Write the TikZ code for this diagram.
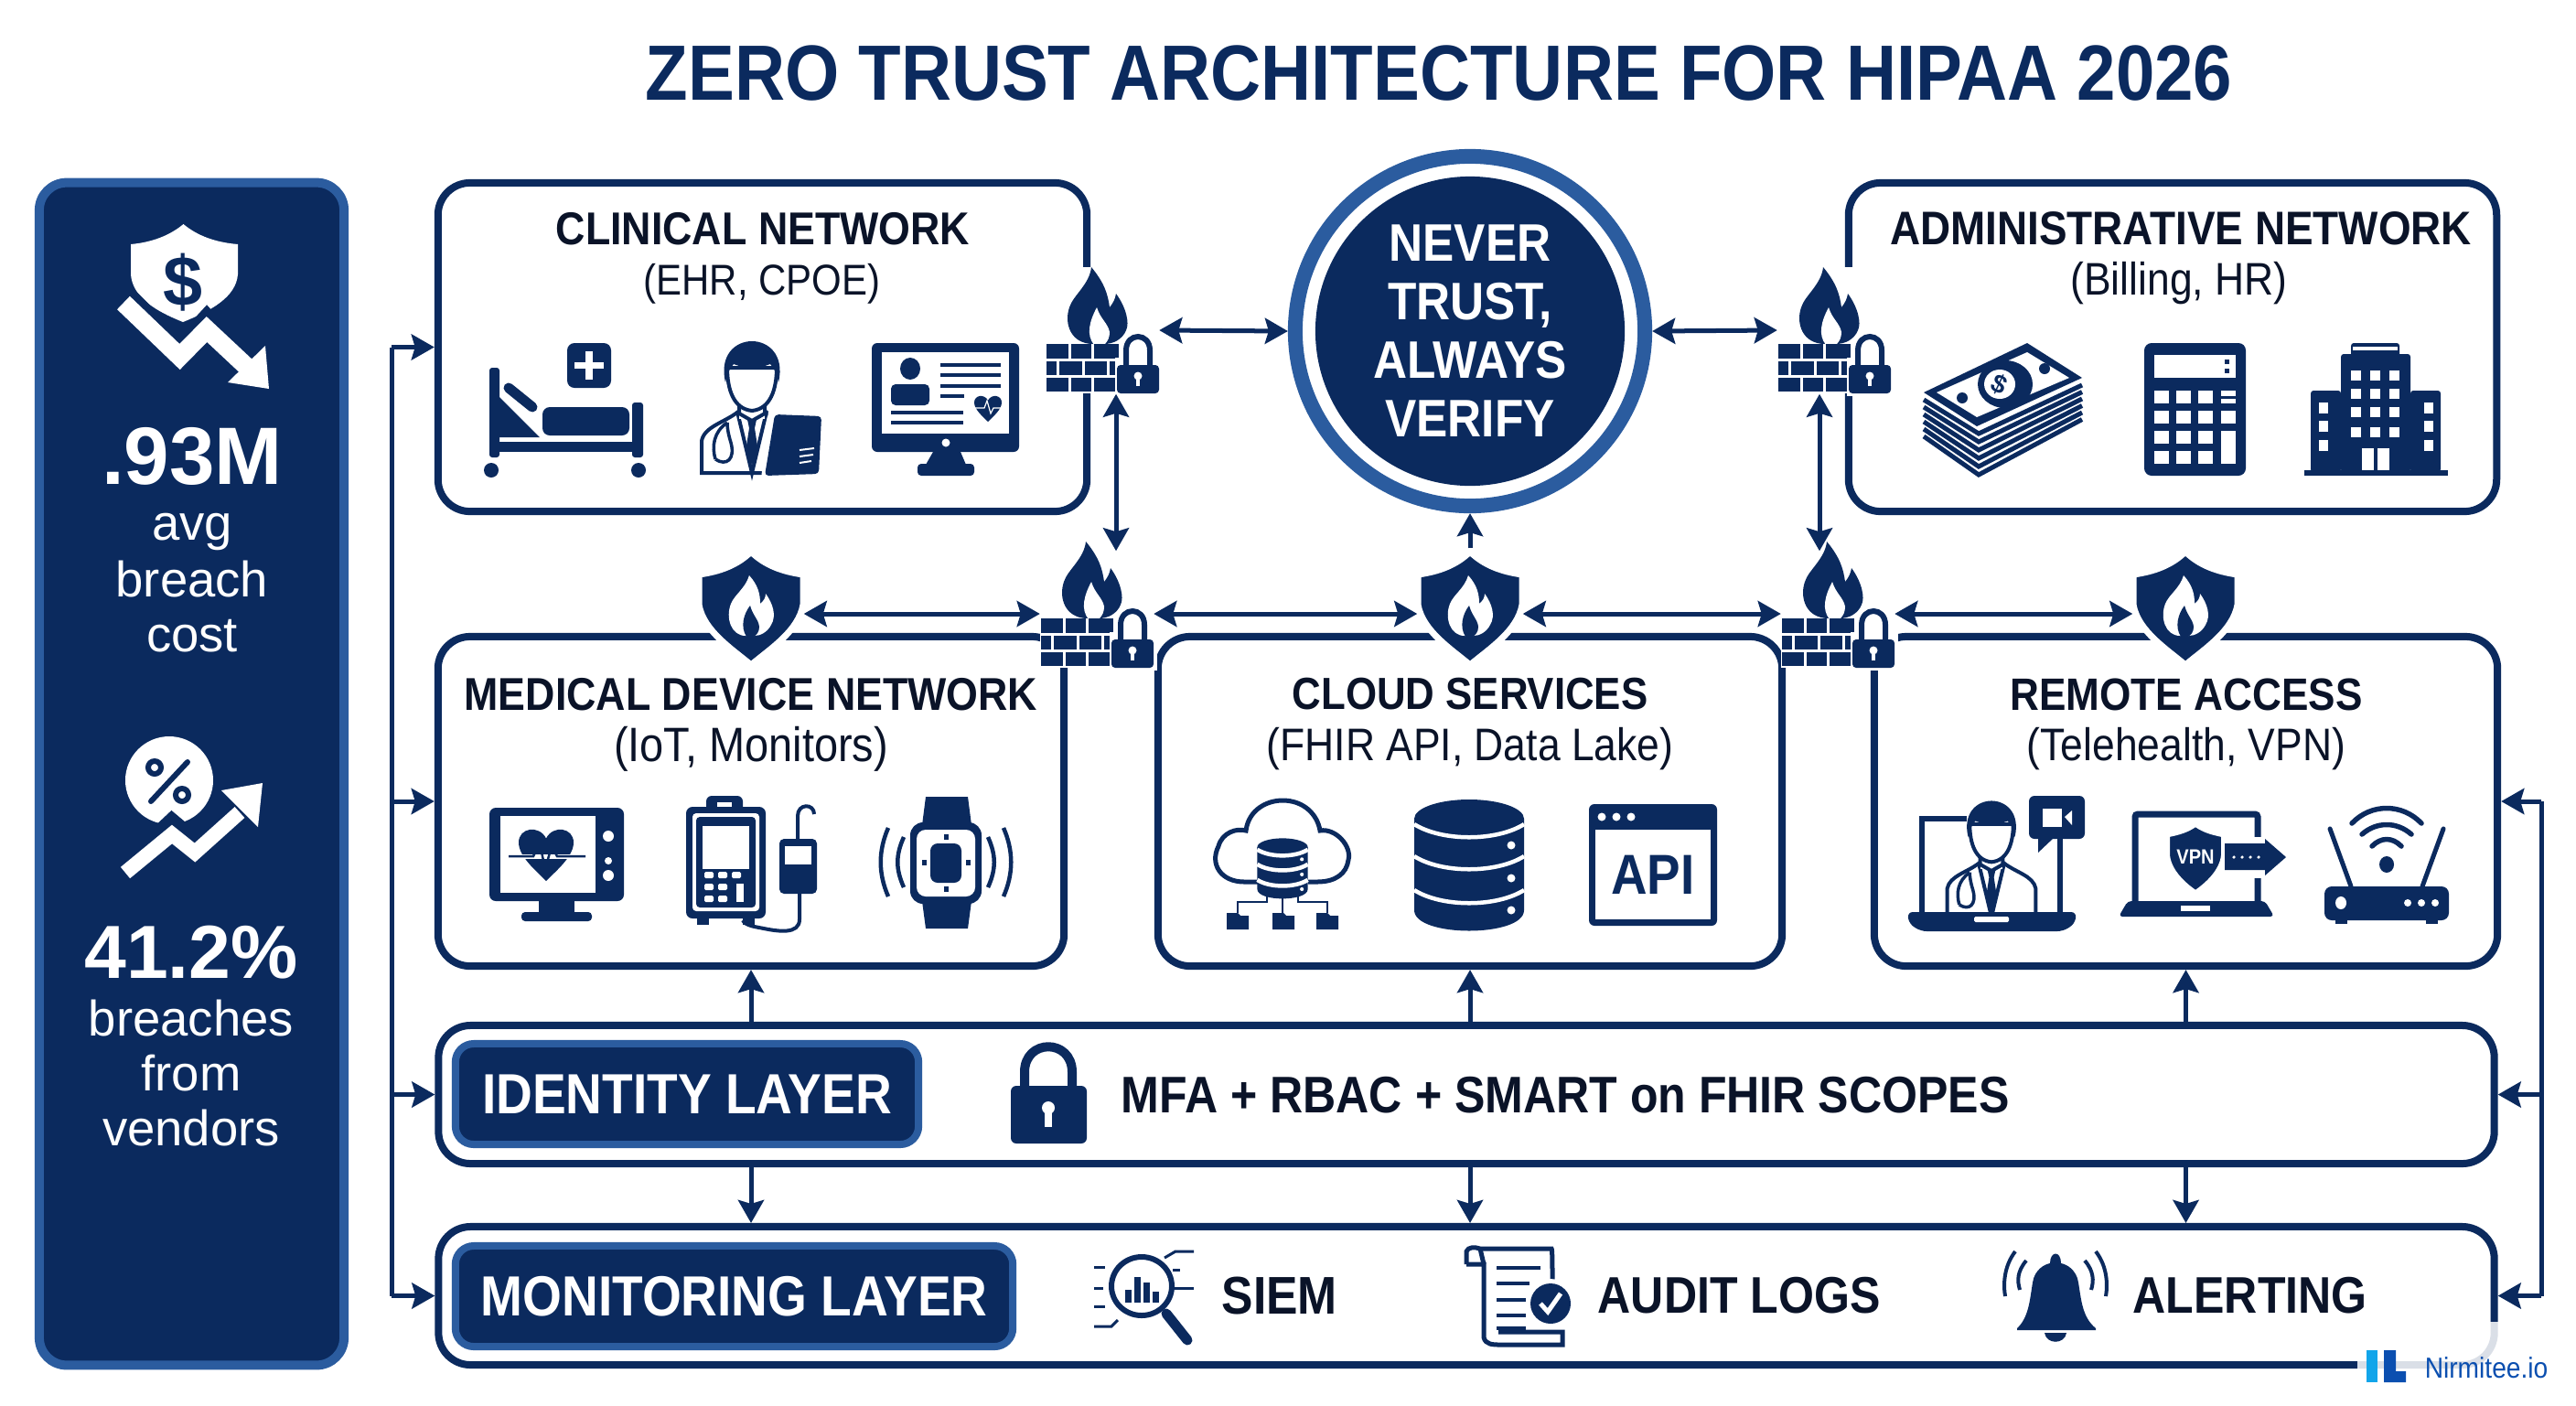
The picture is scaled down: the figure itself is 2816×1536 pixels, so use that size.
\documentclass[tikz,border=0pt]{standalone}
\usepackage{fontspec}
\setmainfont{Liberation Sans}
\newfontfamily\headfont[FakeStretch=0.89]{Liberation Sans}
\usetikzlibrary{arrows.meta}

\definecolor{navy}{HTML}{0B2A5E}
\definecolor{ringblue}{HTML}{2B5C9F}
\definecolor{inkdark}{HTML}{0A1328}
\definecolor{logoblue}{HTML}{0B4FB0}
\definecolor{logocyan}{HTML}{12A5EA}

\newcommand{\fs}[1]{\fontsize{#1}{#1}\selectfont}

\tikzset{
    netbox/.style={draw=navy, line width=0.08cm, rounded corners=0.35cm, fill=white, inner sep=0pt},
    badge/.style={draw=ringblue, fill=navy, line width=0.08cm, rounded corners=0.2cm, text=white,
        inner sep=0pt, font=\headfont\bfseries\fs{17.6}},
    headlabel/.style={text=inkdark, inner sep=0pt, font=\headfont\bfseries\fs{14.3}},
    sublabel/.style={text=inkdark, inner sep=0pt, font=\headfont\fs{14.2}},
    layertext/.style={text=inkdark, inner sep=0pt, font=\headfont\bfseries\fs{16}},
    statbig/.style={text=white, inner sep=0pt, anchor=base, font=\bfseries\fs{24.5}},
    statsmall/.style={text=white, inner sep=0pt, anchor=base, font=\fs{15.5}},
    guard/.style={minimum width=1.23cm, minimum height=1.38cm, inner sep=0pt, fill=white},
    crest/.style={minimum width=1.14cm, minimum height=1.30cm, inner sep=0pt},
    link/.style={navy, line width=0.05cm, -{Stealth[length=0.25cm,width=0.28cm,inset=0.04cm]}},
    linktwo/.style={navy, line width=0.05cm, {Stealth[length=0.25cm,width=0.28cm,inset=0.04cm]}-{Stealth[length=0.25cm,width=0.28cm,inset=0.04cm]}},
    ic/.style={navy, line width=0.05cm},
    % small heart, half width 1
    heart/.pic={
        \fill (0,1) .. controls (-0.4,0.6) and (-1,0.1) .. (-1,-0.4) .. controls (-1,-0.95) and (-0.25,-1.05) .. (0,-0.55)
            .. controls (0.25,-1.05) and (1,-0.95) .. (1,-0.4) .. controls (1,0.1) and (0.4,0.6) .. (0,1) -- cycle;
    },
    % flame on brick wall with padlock
    firewall/.pic={
        \fill[navy] (-10,15) .. controls (-35,15) and (-42,-8) .. (-36,-25) .. controls (-32,-38) and (-14,-50) .. (-12,-69)
            .. controls (2,-52) and (6,-40) .. (8,-25) .. controls (12,-30) and (14,-34) .. (15,-40)
            .. controls (26,-25) and (30,-8) .. (26,0) .. controls (22,10) and (12,15) .. (2,15) -- cycle;
        \fill[white] (-9,16) .. controls (-18,5) and (-14,-10) .. (-6,-25) .. controls (-2,-12) and (6,-8) .. (8,2)
            .. controls (8,8) and (6,12) .. (2,16) -- cycle;
        \foreach \xa/\xb in {-61/-37,-34/-12,-9/18} {
            \fill[navy] (\xa,15) rectangle (\xb,31);
            \fill[navy] (\xa,52) rectangle (\xb,67);
        }
        \foreach \xa/\xb in {-61/-50,-47/-22,-19/5,8/18} {
            \fill[navy] (\xa,34) rectangle (\xb,49);
        }
        \fill[white] (14,30) rectangle (66,72);
        \draw[navy, line width=0.06cm] (26,40) -- (26,22) .. controls (26,2) and (52,2) .. (52,22) -- (52,40);
        \fill[navy, rounded corners=0.04cm] (16,38) rectangle (62,69);
        \fill[white] (39,50) circle (4.5);
        \fill[white] (37,50) rectangle (41,61);
    },
    % shield carrying a flame
    flameshield/.pic={
        \draw[white, line width=0.07cm, fill=navy] (0,-62) .. controls (-15,-47) and (-35,-40) .. (-57,-37) -- (-57,-4)
            .. controls (-52,25) and (-20,45) .. (0,62) .. controls (20,45) and (52,25) .. (57,-4) -- (57,-37)
            .. controls (35,-40) and (15,-47) .. (0,-62) -- cycle;
        \fill[white] (-6,30) .. controls (-22,30) and (-28,10) .. (-22,-5) .. controls (-18,-15) and (-6,-22) .. (-2,-36)
            .. controls (8,-25) and (10,-15) .. (10,-5) .. controls (14,-8) and (16,-12) .. (16,-16)
            .. controls (24,-5) and (28,8) .. (22,18) .. controls (18,26) and (10,30) .. (4,30) -- cycle;
        \fill[navy] (-5,31) .. controls (-12,20) and (-8,6) .. (-1,-3) .. controls (2,8) and (8,12) .. (9,20) .. controls (9,26) and (6,29) .. (3,31) -- cycle;
    },
    % doctor bust, origin at the face
    doctor/.pic={
        \draw[ic, line width=0.04cm, fill=white] (-55,107) -- (-55,72) .. controls (-52,56) and (-30,52) .. (-15,40) -- (15,40)
            .. controls (30,52) and (52,56) .. (55,72) -- (55,107) -- cycle;
        \draw[ic, line width=0.04cm] (-16,40) -- (0,107) -- (16,40);
        \fill[navy] (-6,44) -- (6,44) -- (3,58) -- (7,84) -- (0,98) -- (-7,84) -- (-3,58) -- cycle;
        \draw[ic, line width=0.035cm] (-27,52) .. controls (-42,62) and (-44,78) .. (-40,92);
        \draw[ic, line width=0.035cm] (-40,92) .. controls (-28,100) and (-18,92) .. (-23,74) .. controls (-26,64) and (-27,58) .. (-27,52);
        \fill[white] (-14,28) rectangle (14,48);
        \draw[ic, line width=0.04cm] (-14,26) -- (-14,42) -- (0,50) -- (14,42) -- (14,26);
        \draw[ic, line width=0.04cm, fill=white] (0,39) .. controls (-20,37) and (-27,16) .. (-27,-8) -- (27,-8) .. controls (27,16) and (20,37) .. (0,39) -- cycle;
        \fill[navy] (-29,8) .. controls (-36,-22) and (-18,-37) .. (0,-37) .. controls (18,-37) and (36,-22) .. (29,8)
            .. controls (27,-2) and (24,-8) .. (20,-12) .. controls (8,-7) and (-8,-7) .. (-20,-12) .. controls (-24,-8) and (-27,-2) .. (-29,8) -- cycle;
    },
    % drum with three white seams, half width 60
    drum/.pic={
        \fill[navy] (-60,-50) -- (-60,50) .. controls (-60,80) and (60,80) .. (60,50) -- (60,-50) -- cycle;
        \fill[navy] (0,-50) ellipse [x radius=60, y radius=21];
        \foreach \yy in {-29,6,43} {
            \draw[white, line width=0.045cm] (-60,\yy-15) .. controls (-30,\yy+4) and (30,\yy+4) .. (60,\yy-15);
        }
        \foreach \yy in {-21,15,50} {
            \fill[white] (46,\yy) circle (4.5);
        }
    }
}

\begin{document}
\begin{tikzpicture}[x=0.01cm, y=-0.01cm]
    \useasboundingbox (0,0) rectangle (2816,1536);
    \fill[white] (0,0) rectangle (2816,1536);

    % Title
    \node[text=navy, inner sep=0pt, font=\headfont\bfseries\fs{24.35}] (title) at (1573,80) {ZERO TRUST ARCHITECTURE FOR HIPAA 2026};

    % Stat panel
    \node[draw=ringblue, fill=navy, line width=0.1cm, rounded corners=0.3cm, minimum width=3.33cm, minimum height=12.92cm, inner sep=0pt] (panel) at (209.5,846) {};
    \node[statbig, font=\bfseries\fs{25.3}] (costvalue) at (210,529) {.93M};
    \node[statsmall] (costa) at (210,590) {avg};
    \node[statsmall] (costb) at (210,652) {breach};
    \node[statsmall] (costc) at (210,712) {cost};
    \node[statbig, font=\bfseries\fs{23.4}] (vendorvalue) at (209,1069) {41.2\%};
    \node[statsmall] (vendora) at (209,1132) {breaches};
    \node[statsmall] (vendorb) at (209,1192) {from};
    \node[statsmall] (vendorc) at (209,1252) {vendors};

    % Panel icon: shield and falling arrow
    \fill[white] (200.5,245) .. controls (185,258) and (165,265) .. (143,267) -- (143,300) .. controls (145,325) and (170,340) .. (200,352)
        .. controls (230,340) and (258,325) .. (260,300) -- (260,267) .. controls (236,265) and (216,258) .. (200.5,245) -- cycle;
    \node[text=navy, inner sep=0pt, font=\bfseries\fs{22}] (costsign) at (200,309) {\$};
    \draw[navy, line width=0.36cm, line join=miter] (130,325) -- (196.5,392) -- (226,360) -- (255,392);
    \draw[white, line width=0.2cm, line join=miter] (135,331) -- (196.5,390) -- (226,360) -- (273,404);
    \fill[white] (290,378) -- (294,425) -- (249,418) -- cycle;

    % Panel icon: percent and rising arrow
    \fill[white] (185,853) circle (48);
    \draw[navy, line width=0.06cm] (169,839) circle (7);
    \draw[navy, line width=0.06cm] (199,869) circle (7);
    \draw[navy, line width=0.06cm, line cap=round] (205,833) -- (165,876);
    \draw[navy, line width=0.3cm] (137,954) -- (188,906) -- (213,927) -- (262,882);
    \draw[white, line width=0.16cm, line join=miter] (137,954) -- (188,912) -- (213,932) -- (262,888);
    \fill[white] (287,856) -- (242,864) -- (282,904) -- cycle;

    % Network boxes
    \node[netbox, minimum width=7.09cm, minimum height=3.59cm] (clinical) at (833.5,379.5) {};
    \node[netbox, minimum width=7.08cm, minimum height=3.59cm] (admin) at (2375,379.5) {};
    \node[netbox, minimum width=6.84cm, minimum height=3.60cm] (medical) at (821,876) {};
    \node[netbox, minimum width=6.82cm, minimum height=3.60cm] (cloud) at (1607,876) {};
    \node[netbox, minimum width=6.81cm, minimum height=3.60cm] (remote) at (2389.5,876) {};
    \node[netbox, minimum width=22.46cm, minimum height=1.51cm] (identity) at (1603,1196.5) {};
    \node[netbox, minimum width=22.46cm, minimum height=1.51cm] (monitor) at (1603,1416.5) {};

    % Box titles
    \node[headlabel] (clinicaltitle) at (834,250) {CLINICAL NETWORK};
    \node[sublabel, font=\headfont\fs{13.4}] (clinicalsub) at (833,310) {(EHR, CPOE)};
    \node[headlabel, font=\headfont\bfseries\fs{14.65}] (admintitle) at (2384,250) {ADMINISTRATIVE NETWORK};
    \node[sublabel] (adminsub) at (2382,310) {(Billing, HR)};
    \node[headlabel] (medicaltitle) at (821,759) {MEDICAL DEVICE NETWORK};
    \node[sublabel, font=\headfont\fs{15}] (medicalsub) at (821,819) {(IoT, Monitors)};
    \node[headlabel, font=\headfont\bfseries\fs{14}] (cloudtitle) at (1607,759) {CLOUD SERVICES};
    \node[sublabel] (cloudsub) at (1607,819) {(FHIR API, Data Lake)};
    \node[headlabel, font=\headfont\bfseries\fs{14.1}] (remotetitle) at (2390,759) {REMOTE ACCESS};
    \node[sublabel] (remotesub) at (2390,819) {(Telehealth, VPN)};

    % Layer rows
    \node[badge, minimum width=5.06cm, minimum height=1.10cm] (identitybadge) at (751,1196) {IDENTITY LAYER};
    \node[badge, minimum width=6.09cm, minimum height=1.10cm] (monitorbadge) at (802.5,1417) {MONITORING LAYER};
    \node[layertext, anchor=west] (mfa) at (1225,1197) {MFA + RBAC + SMART on FHIR SCOPES};
    \node[layertext, anchor=west, font=\headfont\bfseries\fs{16.5}] (siem) at (1335,1416) {SIEM};
    \node[layertext, anchor=west] (audit) at (1746,1416) {AUDIT LOGS};
    \node[layertext, anchor=west] (alert) at (2331,1416) {ALERTING};

    % Centre circle
    \node[circle, draw=ringblue, line width=0.16cm, fill=white, minimum size=3.82cm, inner sep=0pt] (trustring) at (1607,362) {};
    \node[circle, fill=navy, minimum size=3.38cm, inner sep=0pt, text=white, align=center,
        font=\headfont\bfseries\fontsize{16.4}{18.2}\selectfont] (trust) at (1607,362) {NEVER\\TRUST,\\ALWAYS\\VERIFY};

    % Firewalls and shields
    \node[guard] (fwclin) at (1205,361) {};
    \node[guard] (fwadmin) at (2005,361) {};
    \node[guard] (fwmed) at (1199,661) {};
    \node[guard] (fwcloud) at (2009,661) {};
    \foreach \fw in {fwclin,fwadmin,fwmed,fwcloud} {
        \pic at (\fw) {firewall};
    }
    \node[crest] (shmed) at (821,665) {};
    \node[crest] (shcloud) at (1607,665) {};
    \node[crest] (shremote) at (2389,665) {};
    \foreach \sh in {shmed,shcloud,shremote} {
        \pic at (\sh) {flameshield};
    }

    % Helper coordinates for the arrows
    \coordinate (arrowrow) at (0,671);
    \coordinate (riseleft) at (1220,0);
    \coordinate (riseright) at (1989,0);
    \coordinate (busleft) at (428,0);
    \coordinate (busright) at (2778,0);

    % Arrows around the circle
    \draw[linktwo] (fwclin.east) -- (trustring.west);
    \draw[linktwo] (trustring.east) -- (fwadmin.west);
    \draw[link] (shcloud.north) -- (trustring.south);
    \draw[linktwo] (fwclin.south -| riseleft) -- ([yshift=-0.11cm]fwmed.north -| riseleft);
    \draw[linktwo] (fwadmin.south -| riseright) -- ([yshift=-0.11cm]fwcloud.north -| riseright);

    % Arrows along the middle row
    \draw[linktwo] (shmed.east |- arrowrow) -- (fwmed.west |- arrowrow);
    \draw[linktwo] (fwmed.east |- arrowrow) -- (shcloud.west |- arrowrow);
    \draw[linktwo] (shcloud.east |- arrowrow) -- (fwcloud.west |- arrowrow);
    \draw[linktwo] (fwcloud.east |- arrowrow) -- (shremote.west |- arrowrow);

    % Identity layer up and down
    \foreach \net in {medical,cloud,remote} {
        \draw[link] (identity.north -| \net) -- (\net.south);
        \draw[link] (identity.south -| \net) -- (monitor.north -| \net);
    }

    % Side buses
    \draw[navy, line width=0.05cm] (clinical.west -| busleft) -- (monitor.west -| busleft);
    \foreach \net in {clinical,medical,identity,monitor} {
        \draw[link] (\net.west -| busleft) -- (\net.west);
    }
    \draw[navy, line width=0.05cm] (remote.east -| busright) -- (monitor.east -| busright);
    \foreach \net in {remote,identity,monitor} {
        \draw[link] (\net.east -| busright) -- (\net.east);
    }

    % Clinical icons: bed
    \fill[navy, rounded corners=0.03cm] (535,402) rectangle (546,500);
    \fill[navy, rounded corners=0.03cm] (691,440) rectangle (703,500);
    \fill[navy] (535,483) rectangle (703,494);
    \fill[navy, rounded corners=0.08cm] (593,445) rectangle (688,476);
    \fill[navy] (546,434) -- (590,478) -- (546,478) -- cycle;
    \draw[navy, line width=0.11cm, line cap=round] (556,424) -- (582,445);
    \fill[navy] (537,514) circle (8);
    \fill[navy] (698,514) circle (8);
    \fill[navy, rounded corners=0.08cm] (620,375) rectangle (668,424);
    \fill[white] (640,384) rectangle (648,415);
    \fill[white] (628,396) rectangle (660,403);

    % Clinical icons: doctor with tablet
    \pic at (822,410) {doctor};
    \fill[white] (840,450) -- (902,451) -- (899,522) -- (832,524) -- cycle;
    \fill[navy, rounded corners=0.04cm] (847,453) -- (898,455) -- (895,518) -- (836,520) -- cycle;
    \draw[white, line width=0.02cm] (874,492) -- (890,490);
    \draw[white, line width=0.02cm] (874,499) -- (889,497);
    \draw[white, line width=0.02cm] (874,506) -- (887,504);

    % Clinical icons: chart on a monitor
    \fill[navy, rounded corners=0.06cm] (953,375) rectangle (1114,494);
    \fill[white] (964,385) rectangle (1103,474);
    \fill[white] (1034,484) circle (4.5);
    \fill[navy] (1020,494) -- (1050,494) -- (1056,508) -- (1012,508) -- cycle;
    \fill[navy, rounded corners=0.04cm] (1003,507) rectangle (1065,520);
    \fill[navy] (995,403) ellipse [x radius=11, y radius=12];
    \fill[navy, rounded corners=0.05cm] (974,420) rectangle (1016,443);
    \foreach \yy in {399,410,422} {
        \draw[navy, line width=0.035cm] (1028,\yy) -- (1094,\yy);
    }
    \draw[navy, line width=0.035cm] (1028,433) -- (1054,433);
    \draw[navy, line width=0.035cm] (974,451) -- (1053,451);
    \draw[navy, line width=0.035cm] (974,462) -- (1053,462);
    \pic[navy, scale=15] at (1080,446) {heart};
    \draw[white, line width=0.012cm] (1066,446) -- (1076,446) -- (1079,438) -- (1083,452) -- (1086,446) -- (1094,446);

    % Admin icons: stack of notes
    \foreach \k in {0,...,5} {
        \draw[navy, line width=0.05cm] (2103,437+8*\k) -- (2163,474+9*\k) -- (2276,421+7.5*\k);
    }
    \fill[navy] (2216,375) -- (2276,413) -- (2161,466) -- (2103,429) -- cycle;
    \fill[white] (2216,385) -- (2262,413) -- (2161,456) -- (2117,429) -- cycle;
    \fill[navy] (2192,420) ellipse [x radius=30, y radius=26];
    \fill[white] (2186,420) ellipse [x radius=17, y radius=16];
    \node[text=navy, inner sep=0pt, rotate=-25, font=\bfseries\fs{8}] (notesign) at (2186,420) {\$};
    \fill[navy] (2145,435) circle (6);
    \fill[navy] (2235,403) circle (6);

    % Admin icons: calculator
    \fill[navy, rounded corners=0.08cm] (2344,375) rectangle (2455,520);
    \fill[white] (2355,388) rectangle (2444,413);
    \fill[navy] (2432,393) rectangle (2437,398);
    \fill[navy] (2432,403) rectangle (2437,408);
    \foreach \xx in {2355,2379,2403} {
        \foreach \yy in {427,449,471,493} {
            \fill[white] (\xx,\yy) rectangle (\xx+16,\yy+14);
        }
    }
    \fill[white] (2428,427) rectangle (2444,433);
    \fill[white] (2428,436) rectangle (2444,441);
    \fill[white] (2428,449) rectangle (2444,463);
    \fill[white] (2428,471) rectangle (2444,507);

    % Admin icons: office building
    \fill[navy] (2519,514) rectangle (2676,520);
    \fill[navy, rounded corners=0.03cm] (2559,387) rectangle (2635,516);
    \fill[navy, rounded corners=0.03cm] (2570,375) rectangle (2623,390);
    \fill[white] (2572,379) rectangle (2621,383);
    \fill[navy, rounded corners=0.03cm] (2526,427) rectangle (2559,516);
    \fill[navy, rounded corners=0.03cm] (2635,427) rectangle (2668,516);
    \foreach \xx in {2570,2591,2612} {
        \foreach \yy in {405,425,445,467} {
            \fill[white] (\xx,\yy) rectangle (\xx+11,\yy+11);
        }
    }
    \foreach \yy in {440,460,481} {
        \fill[white] (2535,\yy) rectangle (2545,\yy+12);
        \fill[white] (2650,\yy) rectangle (2660,\yy+12);
    }
    \fill[white] (2582,490) rectangle (2612,514);
    \fill[navy] (2595,490) rectangle (2599,514);

    % Medical icons: ECG monitor
    \fill[navy, rounded corners=0.07cm] (535,883) rectangle (682,985);
    \fill[white] (547,892) rectangle (651,976);
    \fill[navy] (589,985) rectangle (628,998);
    \fill[navy, rounded corners=0.04cm] (570,997) rectangle (647,1007);
    \foreach \yy/\rr in {914/6,941/4,957/6} {
        \fill[white] (665,\yy) circle (\rr);
    }
    \pic[navy, scale=30] at (597,933) {heart};
    \draw[white, line width=0.05cm] (556,936) -- (640,936);
    \draw[navy, line width=0.025cm] (556,936) -- (583,936) -- (590,922) -- (596,950) -- (603,925) -- (609,936) -- (640,936);

    % Medical icons: infusion pump
    \fill[navy, rounded corners=0.06cm] (772,870) rectangle (812,890);
    \fill[white] (784,877) rectangle (800,884);
    \fill[navy, rounded corners=0.07cm] (750,882) rectangle (837,1004);
    \fill[navy] (762,1000) rectangle (775,1011);
    \fill[navy] (812,1000) rectangle (825,1011);
    \fill[white, rounded corners=0.04cm] (757,889) rectangle (830,996);
    \fill[navy, rounded corners=0.04cm] (761,893) rectangle (826,992);
    \fill[white] (768,903) rectangle (819,950);
    \foreach \xx in {770,785,800} {
        \fill[white, rounded corners=0.015cm] (\xx,953) rectangle (\xx+10,960);
    }
    \foreach \xx in {770,785} {
        \fill[white, rounded corners=0.015cm] (\xx,966) rectangle (\xx+10,973);
        \fill[white, rounded corners=0.015cm] (\xx,979) rectangle (\xx+10,986);
    }
    \fill[white] (805,966) rectangle (813,986);
    \draw[ic, line width=0.04cm] (872,917) -- (872,892) .. controls (872,878) and (890,878) .. (890,890);
    \fill[navy, rounded corners=0.05cm] (852,917) rectangle (893,977);
    \fill[white] (858,925) rectangle (887,945);
    \draw[ic, line width=0.04cm] (874,977) -- (874,1005) .. controls (874,1022) and (850,1018) .. (835,1015) .. controls (825,1013) and (815,1012) .. (812,1006);

    % Medical icons: smart watch
    \fill[navy] (1012,871) -- (1058,871) -- (1062,902) -- (1008,902) -- cycle;
    \fill[navy] (1008,985) -- (1062,985) -- (1058,1015) -- (1012,1015) -- cycle;
    \fill[navy, rounded corners=0.14cm] (995,899) rectangle (1073,988);
    \fill[white, rounded corners=0.1cm] (1002,907) rectangle (1066,980);
    \fill[navy, rounded corners=0.08cm] (1017,922) rectangle (1051,965);
    \foreach \aa/\bb in {1034/915,1034/972,1010/943,1058/943} {
        \fill[navy] (\aa-2.5,\bb-3) rectangle (\aa+2.5,\bb+3);
    }
    \draw[ic, line width=0.045cm] (971,905) .. controls (960,930) and (960,955) .. (971,980);
    \draw[ic, line width=0.045cm] (988,915) .. controls (979,935) and (979,950) .. (988,970);
    \draw[ic, line width=0.045cm] (1097,905) .. controls (1108,930) and (1108,955) .. (1097,980);
    \draw[ic, line width=0.045cm] (1080,915) .. controls (1089,935) and (1089,950) .. (1080,970);

    % Cloud icons: cloud with store and tree
    \draw[ic] (1375,964) -- (1360,964) .. controls (1335,964) and (1322,945) .. (1332,925) .. controls (1336,910) and (1352,905) .. (1362,908)
        .. controls (1365,885) and (1385,875) .. (1402,875) .. controls (1425,875) and (1440,890) .. (1443,908)
        .. controls (1460,905) and (1478,925) .. (1474,940) .. controls (1472,955) and (1460,964) .. (1440,964) -- (1430,964);
    \pic[scale=0.46] at (1402,949) {drum};
    \draw[ic, line width=0.025cm] (1402,978) -- (1402,998);
    \draw[ic, line width=0.025cm] (1385,980) -- (1385,986) -- (1353,986) -- (1353,998);
    \draw[ic, line width=0.025cm] (1419,980) -- (1419,986) -- (1451,986) -- (1451,998);
    \foreach \xx in {1341,1391,1439} {
        \fill[navy] (\xx,998) -- (\xx+12,998) -- (\xx+15,1001) -- (\xx+24,1001) -- (\xx+24,1016) -- (\xx,1016) -- cycle;
    }

    % Cloud icons: database and API window
    \pic at (1606,945) {drum};
    \fill[navy, rounded corners=0.06cm] (1737,879) rectangle (1877,1012);
    \fill[white] (1744,907) rectangle (1870,1005);
    \foreach \xx in {1751,1767,1783} {
        \fill[white] (\xx,893) circle (4.5);
    }
    \node[text=navy, inner sep=0pt, font=\headfont\bfseries\fs{17.5}] (apilabel) at (1807,956) {API};

    % Remote icons: video visit
    \draw[navy, line width=0.06cm] (2150,895) -- (2101,895) -- (2101,1000);
    \draw[navy, line width=0.06cm] (2252,912) -- (2252,1000);
    \pic[scale=0.88] at (2177,908) {doctor};
    \fill[navy, rounded corners=0.06cm] (2085,997) -- (2270,997) -- (2268,1010) -- (2255,1018) -- (2100,1018) -- (2087,1010) -- cycle;
    \fill[white, rounded corners=0.015cm] (2158,1002) rectangle (2196,1008);
    \fill[navy, rounded corners=0.06cm] (2218,870) rectangle (2279,917);
    \fill[navy] (2228,915) -- (2228,932) -- (2246,915) -- cycle;
    \fill[white] (2233,884) rectangle (2254,904);
    \fill[white] (2257,893) -- (2265,886) -- (2265,902) -- cycle;

    % Remote icons: VPN laptop
    \draw[navy, line width=0.07cm, rounded corners=0.03cm] (2334,995) -- (2334,890) -- (2468,890) -- (2468,995);
    \fill[navy, rounded corners=0.04cm] (2326,985) -- (2476,985) -- (2486,1002) -- (2316,1002) -- cycle;
    \fill[white] (2384,990) rectangle (2416,996);
    \fill[white] (2460,915) rectangle (2475,960);
    \fill[navy] (2432,922) -- (2476,922) -- (2476,917) -- (2499,937) -- (2476,957) -- (2476,951) -- (2432,951) -- cycle;
    \foreach \xx in {2442,2451,2460,2469} {
        \fill[white] (\xx,937) circle (1.8);
    }
    \draw[white, line width=0.02cm, fill=navy] (2400,903) .. controls (2390,910) and (2380,912) .. (2371,914) -- (2371,935)
        .. controls (2373,953) and (2390,967) .. (2400,974) .. controls (2410,967) and (2427,953) .. (2429,935) -- (2429,914)
        .. controls (2420,912) and (2410,910) .. (2400,903) -- cycle;
    \node[text=white, inner sep=0pt, font=\headfont\bfseries\fs{6.4}] (vpnlabel) at (2400,937) {VPN};

    % Remote icons: router
    \fill[navy, rounded corners=0.08cm] (2541,969) rectangle (2677,1006);
    \fill[navy] (2553,1003) rectangle (2566,1010);
    \fill[navy] (2652,1003) rectangle (2665,1010);
    \draw[navy, line width=0.05cm, line cap=round] (2547,906) -- (2570,969);
    \draw[navy, line width=0.05cm, line cap=round] (2671,906) -- (2648,969);
    \fill[white] (2559,987) ellipse [x radius=6, y radius=7];
    \foreach \xx in {2632,2647,2662} {
        \fill[white] (\xx,987) circle (4);
    }
    \fill[navy] (2609,945) ellipse [x radius=8, y radius=9];
    \draw[navy, line width=0.055cm, line cap=round] (2593,925) .. controls (2603,915) and (2615,915) .. (2625,925);
    \draw[navy, line width=0.055cm, line cap=round] (2582,912) .. controls (2598,898) and (2620,898) .. (2636,912);
    \draw[navy, line width=0.055cm, line cap=round] (2571,900) .. controls (2592,878) and (2626,878) .. (2647,900);

    % Identity row: padlock
    \draw[navy, line width=0.1cm] (1120,1195) -- (1120,1172) .. controls (1120,1135) and (1172,1135) .. (1172,1172) -- (1172,1195);
    \fill[navy, rounded corners=0.06cm] (1105,1187) rectangle (1188,1250);
    \fill[white] (1146,1211) circle (7);
    \fill[white] (1142,1211) rectangle (1150,1232);

    % Monitoring row: magnifier
    \draw[navy, line width=0.06cm] (1248,1406) ellipse [x radius=33, y radius=32];
    \foreach \xx/\yy in {1233/1410,1243/1396,1253/1402,1263/1412} {
        \fill[navy] (\xx-3.5,\yy) rectangle (\xx+3.5,1424);
    }
    \draw[navy, line width=0.11cm, line cap=round] (1275,1436) -- (1298,1465);
    \draw[navy, line width=0.03cm] (1273,1375) -- (1285,1368) -- (1305,1368);
    \draw[navy, line width=0.03cm] (1282,1388) -- (1290,1388);
    \draw[navy, line width=0.03cm] (1283,1408) -- (1305,1408);
    \draw[navy, line width=0.03cm] (1196,1385) -- (1208,1385);
    \draw[navy, line width=0.03cm] (1196,1408) -- (1206,1408);
    \draw[navy, line width=0.03cm] (1196,1428) -- (1208,1428);
    \draw[navy, line width=0.03cm] (1196,1450) -- (1215,1450) -- (1222,1443);

    % Monitoring row: audit scroll
    \draw[navy, line width=0.05cm, fill=white] (1603,1382) -- (1603,1368) .. controls (1605,1363) and (1612,1363) .. (1618,1365)
        -- (1696,1365) .. controls (1697,1365) and (1697,1385) .. (1697,1403);
    \draw[navy, line width=0.05cm] (1603,1382) -- (1622,1382) -- (1622,1462) .. controls (1624,1470) and (1632,1470) .. (1640,1470) -- (1708,1470) -- (1708,1456) -- (1638,1456);
    \draw[navy, line width=0.05cm] (1618,1365) -- (1622,1382);
    \foreach \yy/\xb in {1386/1684,1403/1672,1421/1668,1438/1668,1452/1668} {
        \draw[navy, line width=0.04cm] (1636,\yy) -- (\xb,\yy);
    }
    \fill[white] (1695,1425) circle (27);
    \fill[navy] (1695,1425) circle (22);
    \draw[white, line width=0.05cm] (1684,1425) -- (1692,1434) -- (1706,1414);

    % Monitoring row: bell
    \fill[navy] (2205,1452) .. controls (2218,1440) and (2219,1420) .. (2222,1402) .. controls (2224,1388) and (2235,1382) .. (2241,1381)
        .. controls (2241,1367) and (2253,1367) .. (2253,1381) .. controls (2259,1382) and (2270,1388) .. (2272,1402)
        .. controls (2275,1420) and (2276,1440) .. (2291,1452) -- (2291,1454) -- (2205,1454) -- cycle;
    \fill[navy] (2235,1457) .. controls (2237,1470) and (2257,1470) .. (2259,1457) -- cycle;
    \draw[navy, line width=0.04cm] (2203,1368) .. controls (2190,1385) and (2190,1405) .. (2192,1417);
    \draw[navy, line width=0.04cm] (2215,1378) .. controls (2205,1390) and (2205,1400) .. (2208,1410);
    \draw[navy, line width=0.04cm] (2291,1368) .. controls (2304,1385) and (2304,1405) .. (2302,1417);
    \draw[navy, line width=0.04cm] (2279,1378) .. controls (2289,1390) and (2289,1400) .. (2286,1410);

    % Brand mark over the corner of the monitoring box
    \fill[white, opacity=0.85] (2577,1445) rectangle (2800,1515);
    \fill[logocyan] (2587,1476) rectangle (2599,1511);
    \fill[logoblue] (2606,1476) -- (2619,1476) -- (2619,1499) -- (2630,1499) -- (2630,1511) -- (2606,1511) -- cycle;
    \node[text=logoblue, inner sep=0pt, anchor=west, font=\headfont\fs{9}] (brand) at (2650,1495) {Nirmitee.io};
\end{tikzpicture}
\end{document}
